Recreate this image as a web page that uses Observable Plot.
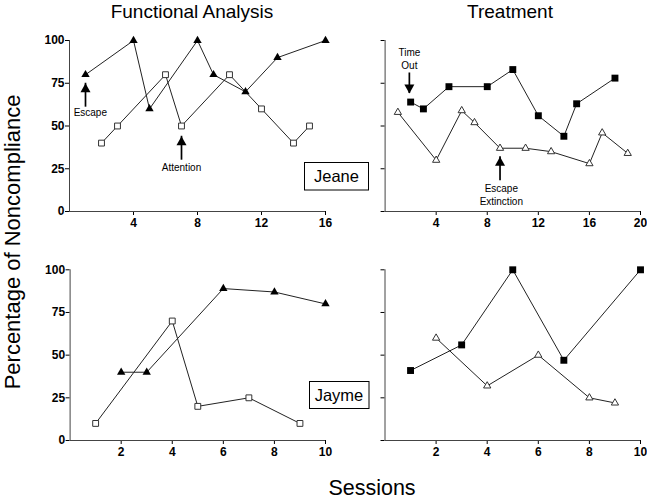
<!DOCTYPE html>
<html><head><meta charset="utf-8">
<script src="https://cdn.jsdelivr.net/npm/d3@7"></script>
<script src="https://cdn.jsdelivr.net/npm/@observablehq/plot@0.6"></script>
<style>
body{margin:0;background:white;}
#chart{position:relative;width:647px;height:501px;background:white;font-family:"Liberation Sans",Arial,sans-serif;overflow:hidden;}
#chart .panel{position:absolute;}
#chart svg.overlay{position:absolute;left:0;top:0;pointer-events:none;}
</style></head><body><div id="chart"></div>
<script>
// ---- data ----
const faJeaneEscapeSessions = [1,4,5,8,9,11,13,16];
const faJeaneEscapeValues = [80,100,60,100,80,70,90,100];
const faJeaneAttentionSessions = [2,3,6,7,10,12,14,15];
const faJeaneAttentionValues = [40,50,80,50,80,60,40,50];
const trJeaneTimeOutSessions = [2,3,5,8,10,12,14,15,18];
const trJeaneTimeOutValues = [64,60,73,73,83,56,44,63,78];
const trJeaneExtinctionSessions = [1,4,6,7,9,11,13,16,17,19];
const trJeaneExtinctionValues = [58,30,59,52,37,37,35,28,46,34];
const faJaymeEscapeSessions = [2,3,6,8,10];
const faJaymeEscapeValues = [40,40,89,87,80];
const faJaymeAttentionSessions = [1,4,5,7,9];
const faJaymeAttentionValues = [10,70,20,25,10];
const trJaymeTimeOutSessions = [1,3,5,7,10];
const trJaymeTimeOutValues = [41,56,100,47,100];
const trJaymeExtinctionSessions = [2,4,6,8,9];
const trJaymeExtinctionValues = [60,32,50,25,22];

const yTicks = [0,25,50,75,100];
const faJeaneXTicks = [4,8,12,16];
const trJeaneXTicks = [4,8,12,16,20];
const jaymeXTicks = [2,4,6,8,10];

// annotations (data coordinates)
const faJeaneNoteText = ["Escape","Attention"];
const faJeaneNoteX = [1.3,7];
const faJeaneNoteY = [58,26.3];
const faJeaneArrowX = [1,7];
const faJeaneArrowTip = [75,44];
const faJeaneArrowEnd = [61,30];
const trJeaneNoteText = ["Time\nOut","Escape\nExtinction"];
const trJeaneNoteX = [1.9,9.1];
const trJeaneNoteY = [89.6,10.3];
const trJeaneArrowX = [1.9,9];
const trJeaneArrowTip = [69,32];
const trJeaneArrowEnd = [81,18];
const trJeaneArrowDir = ["down","up"];

const titles = ["Functional Analysis","Treatment"];
const yTitle = "Percentage of Noncompliance";
const xTitle = "Sessions";
const participants = ["Jeane","Jayme"];

// ---- drawing ----
const FONT = '"Liberation Sans", Arial, sans-serif';
const arrowUp = {draw(ctx){ctx.moveTo(0,0);ctx.lineTo(5,9);ctx.lineTo(-5,9);ctx.closePath();}};
const arrowDown = {draw(ctx){ctx.moveTo(0,0);ctx.lineTo(5,-9);ctx.lineTo(-5,-9);ctx.closePath();}};

const styles = {
  triFilled: {symbol:"triangle", r:3.1, fill:"black", stroke:"none"},
  sqOpen: {symbol:"square", r:3.3, fill:"white", stroke:"#333", strokeWidth:1},
  sqFilled: {symbol:"square", r:3.9, fill:"black", stroke:"none"},
  triOpen: {symbol:"triangle", r:2.7, fill:"white", stroke:"#333", strokeWidth:1}
};

function panel(p) {
  const marks = [
    Plot.ruleY([0], {x1:0, x2:p.xMax, stroke:"#444", strokeWidth:1}),
    Plot.ruleX([0], {y1:0, y2:100, stroke:"#444", strokeWidth:1})
  ];
  for (const s of p.series) {
    marks.push(Plot.line(s.x, {x:s.x, y:s.y, stroke:"#222", strokeWidth:1}));
  }
  for (const s of p.series) {
    marks.push(Plot.dot(s.x, {x:s.x, y:s.y, ...styles[s.kind]}));
  }
  if (p.arrows) {
    const a = p.arrows;
    marks.push(Plot.ruleX(a.x, {x:a.x, y1:a.tip, y2:a.end, stroke:"black", strokeWidth:1.7}));
    a.x.forEach((xv,i) => {
      marks.push(Plot.dot([xv], {x:[xv], y:[a.tip[i]], symbol: a.dir[i]==="down"?arrowDown:arrowUp, fill:"black", stroke:"none"}));
    });
  }
  if (p.notes) {
    const n = p.notes;
    marks.push(Plot.text(n.text, {x:n.x, y:n.y, text:n.text, fontSize:10, fontWeight:"normal", fill:"black", lineHeight:1.3, textAnchor:"middle"}));
  }
  const svg = Plot.plot({
    width: p.width, height: p.height,
    marginLeft: p.ml, marginRight: p.mr, marginTop: p.mt, marginBottom: p.mb,
    inset: 0,
    x: {domain:[0,p.xMax], ticks:p.xTicks, tickSize:4, tickPadding:3, label:null},
    y: {domain:[0,100], ticks:yTicks, tickSize:4, tickPadding:1, label:null,
        tickFormat: p.yLabels ? (d => String(d)) : (() => "")},
    style: {fontFamily:FONT, fontSize:"12px", fontWeight:"bold", background:"transparent", color:"#000", overflow:"visible"},
    marks
  });
  const div = document.createElement("div");
  div.className = "panel";
  div.style.left = p.left + "px";
  div.style.top = p.top + "px";
  div.appendChild(svg);
  document.getElementById("chart").appendChild(div);
}

// Top-left: Jeane functional analysis
panel({left:30, top:30, width:310, height:205, ml:39, mr:15, mt:10, mb:24, xMax:16, xTicks:faJeaneXTicks, yLabels:true,
  series:[{x:faJeaneEscapeSessions, y:faJeaneEscapeValues, kind:"triFilled"},
          {x:faJeaneAttentionSessions, y:faJeaneAttentionValues, kind:"sqOpen"}],
  arrows:{x:faJeaneArrowX, tip:faJeaneArrowTip, end:faJeaneArrowEnd, dir:["up","up"]},
  notes:{text:faJeaneNoteText, x:faJeaneNoteX, y:faJeaneNoteY}});
// Top-right: Jeane treatment
panel({left:370, top:30, width:277, height:205, ml:14.6, mr:7, mt:10, mb:24, xMax:20, xTicks:trJeaneXTicks, yLabels:false,
  series:[{x:trJeaneTimeOutSessions, y:trJeaneTimeOutValues, kind:"sqFilled"},
          {x:trJeaneExtinctionSessions, y:trJeaneExtinctionValues, kind:"triOpen"}],
  arrows:{x:trJeaneArrowX, tip:trJeaneArrowTip, end:trJeaneArrowEnd, dir:trJeaneArrowDir},
  notes:{text:trJeaneNoteText, x:trJeaneNoteX, y:trJeaneNoteY}});
// Bottom-left: Jayme functional analysis
panel({left:30, top:259, width:310, height:205, ml:39.6, mr:15, mt:10.3, mb:24, xMax:10, xTicks:jaymeXTicks, yLabels:true,
  series:[{x:faJaymeEscapeSessions, y:faJaymeEscapeValues, kind:"triFilled"},
          {x:faJaymeAttentionSessions, y:faJaymeAttentionValues, kind:"sqOpen"}]});
// Bottom-right: Jayme treatment
panel({left:370, top:259, width:277, height:205, ml:14.5, mr:7, mt:10.3, mb:24, xMax:10, xTicks:jaymeXTicks, yLabels:false,
  series:[{x:trJaymeTimeOutSessions, y:trJaymeTimeOutValues, kind:"sqFilled"},
          {x:trJaymeExtinctionSessions, y:trJaymeExtinctionValues, kind:"triOpen"}]});

// overlay: titles, axis titles, participant boxes
const ov = d3.create("svg").attr("class","overlay").attr("width",647).attr("height",501)
  .style("font-family", FONT);
ov.append("text").attr("x",192).attr("y",18).attr("text-anchor","middle").attr("font-size",19).text(titles[0]);
ov.append("text").attr("x",510).attr("y",18).attr("text-anchor","middle").attr("font-size",19).text(titles[1]);
ov.append("text").attr("transform","translate(20,242) rotate(-90)").attr("text-anchor","middle").attr("font-size",22).text(yTitle);
ov.append("text").attr("x",372).attr("y",495).attr("text-anchor","middle").attr("font-size",21.5).text(xTitle);
ov.append("rect").attr("x",304.5).attr("y",162.5).attr("width",64).attr("height",27.5).attr("fill","white").attr("stroke","black");
ov.append("text").attr("x",336.5).attr("y",182).attr("text-anchor","middle").attr("font-size",16.5).text(participants[0]);
ov.append("rect").attr("x",309.5).attr("y",381.5).attr("width",59.5).attr("height",27).attr("fill","white").attr("stroke","black");
ov.append("text").attr("x",339).attr("y",400.5).attr("text-anchor","middle").attr("font-size",16.5).text(participants[1]);
document.getElementById("chart").appendChild(ov.node());
</script>
</body></html>
